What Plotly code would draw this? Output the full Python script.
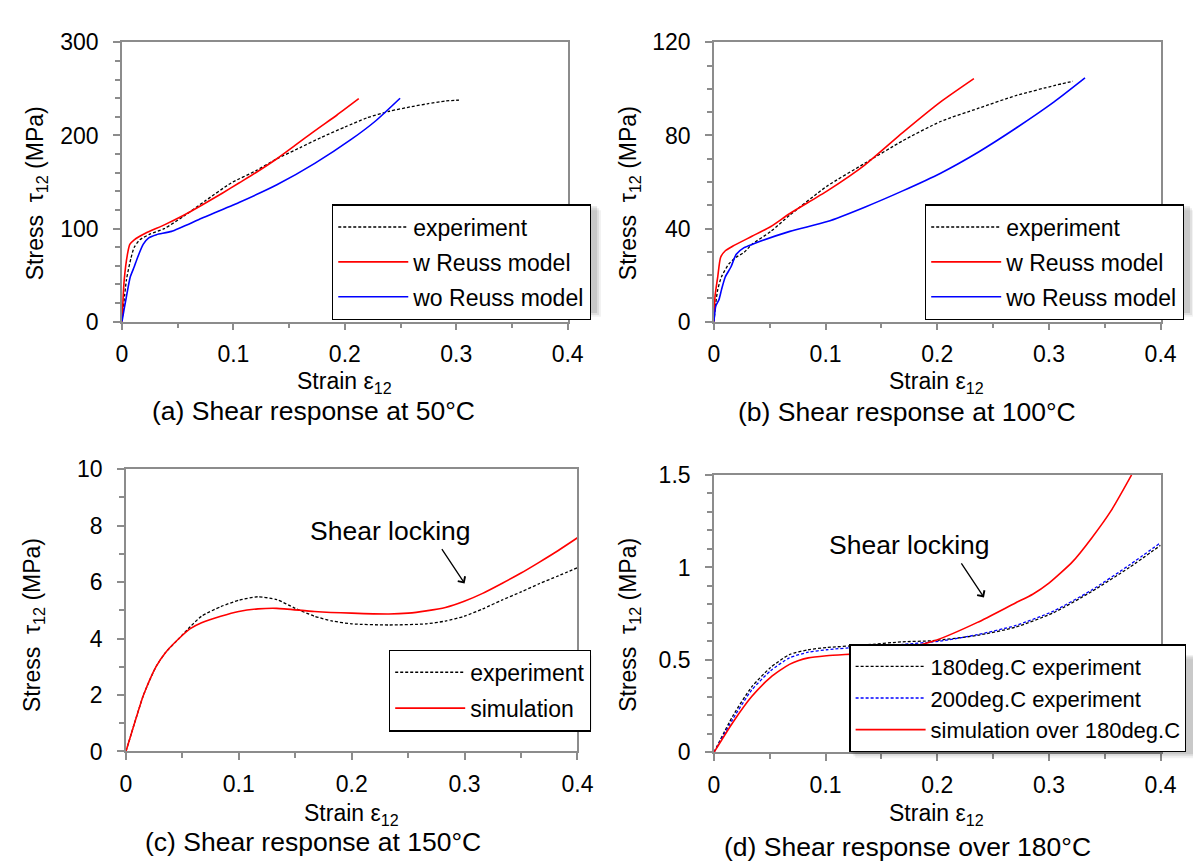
import plotly.graph_objects as go

# ---------------- data ----------------
# (a) 50 C
a_exp_x = [0, 0.004, 0.008, 0.011, 0.016, 0.025, 0.038, 0.055, 0.075, 0.098, 0.12, 0.139, 0.16, 0.179, 0.2, 0.22, 0.24, 0.26, 0.274, 0.29, 0.3025]
a_exp_y = [0, 45, 68, 80, 88, 94, 100, 113, 130, 149, 162, 175, 187, 198, 209, 219, 226, 231, 234, 237, 238]
a_w_x = [0, 0.002, 0.005, 0.007, 0.011, 0.021, 0.038, 0.055, 0.0715, 0.09, 0.105, 0.12, 0.139, 0.155, 0.173, 0.193, 0.2125]
a_w_y = [0, 45, 73, 83, 88, 95, 104, 114, 125, 138, 149, 160, 175, 189, 205, 222, 239.5]
a_wo_x = [0, 0.002, 0.004, 0.0074, 0.011, 0.014, 0.019, 0.024, 0.031, 0.0445, 0.0715, 0.105, 0.139, 0.173, 0.206, 0.227, 0.2496]
a_wo_y = [0, 14, 27, 48, 59, 69, 83, 90, 93.5, 97, 111, 128, 147, 170, 196, 215, 240]

# (b) 100 C
b_exp_x = [0, 0.0017, 0.0034, 0.0068, 0.0135, 0.02, 0.027, 0.034, 0.051, 0.068, 0.1015, 0.135, 0.169, 0.203, 0.237, 0.271, 0.3046, 0.3215]
b_exp_y = [0, 8.2, 13.8, 19.3, 24.9, 27.7, 29.8, 33.2, 38.8, 45.8, 58.3, 68, 77.7, 86, 91.7, 97.2, 101.4, 103.3]
b_w_x = [0, 0.001, 0.0034, 0.006, 0.0102, 0.017, 0.034, 0.051, 0.068, 0.1015, 0.135, 0.169, 0.203, 0.2328]
b_w_y = [0, 11, 19.3, 27.7, 30.5, 32.5, 36.7, 40.9, 46.5, 56.2, 67.3, 81.2, 94.4, 104.4]
b_wo_x = [0, 0.0017, 0.0045, 0.0068, 0.0102, 0.0152, 0.02, 0.027, 0.034, 0.068, 0.1015, 0.135, 0.169, 0.203, 0.237, 0.271, 0.3046, 0.3323]
b_wo_y = [0, 6.8, 9.5, 13.8, 19.3, 23.5, 29, 31.8, 33.2, 38.8, 43, 49.2, 56.2, 63.8, 72.9, 83.3, 94.4, 104.7]

# (c) 150 C
c_exp_x = [0, 0.008, 0.0156, 0.0266, 0.035, 0.047, 0.057, 0.067, 0.084, 0.1003, 0.117, 0.1336, 0.15, 0.167, 0.183, 0.2, 0.233, 0.266, 0.283, 0.2997, 0.316, 0.333, 0.35, 0.366, 0.383, 0.4]
c_exp_y = [0, 1.05, 2.0, 3.0, 3.5, 4.0, 4.42, 4.79, 5.13, 5.36, 5.48, 5.38, 5.07, 4.79, 4.62, 4.52, 4.48, 4.52, 4.62, 4.79, 5.05, 5.36, 5.65, 5.94, 6.22, 6.51]
c_sim_x = [0, 0.008, 0.0156, 0.0266, 0.035, 0.047, 0.057, 0.067, 0.084, 0.1, 0.117, 0.1336, 0.167, 0.2, 0.233, 0.25, 0.266, 0.283, 0.2997, 0.316, 0.333, 0.35, 0.366, 0.383, 0.4]
c_sim_y = [0, 1.05, 2.0, 3.0, 3.5, 4.0, 4.35, 4.56, 4.79, 4.96, 5.05, 5.07, 4.96, 4.90, 4.87, 4.90, 4.98, 5.10, 5.32, 5.60, 5.95, 6.32, 6.70, 7.12, 7.57]

# (d) over 180 C
d_180_x = [0, 0.0169, 0.0338, 0.0507, 0.0676, 0.0845, 0.101, 0.135, 0.169, 0.196, 0.236, 0.27, 0.304, 0.338, 0.372, 0.4]
d_180_y = [0, 0.197, 0.354, 0.459, 0.529, 0.555, 0.567, 0.581, 0.598, 0.604, 0.633, 0.677, 0.755, 0.869, 1.0, 1.12]
d_200_x = [0, 0.0169, 0.0338, 0.0507, 0.0676, 0.0845, 0.101, 0.135, 0.169, 0.203, 0.236, 0.27, 0.304, 0.338, 0.372, 0.4]
d_200_y = [0, 0.18, 0.337, 0.441, 0.511, 0.542, 0.555, 0.572, 0.584, 0.602, 0.637, 0.686, 0.764, 0.877, 1.013, 1.134]
d_sim_x = [0, 0.0169, 0.0338, 0.0507, 0.0676, 0.0845, 0.101, 0.135, 0.169, 0.199, 0.236, 0.27, 0.2855, 0.3, 0.321, 0.338, 0.356, 0.374]
d_sim_y = [0, 0.162, 0.302, 0.406, 0.476, 0.511, 0.523, 0.537, 0.56, 0.607, 0.703, 0.808, 0.855, 0.915, 1.03, 1.157, 1.31, 1.5]

x_ticks = [0, 0.1, 0.2, 0.3, 0.4]
x_tick_text = ["0", "0.1", "0.2", "0.3", "0.4"]
panel_titles = ["(a) Shear response at 50°C", "(b) Shear response at 100°C",
                "(c) Shear response at 150°C", "(d) Shear response over 180°C"]

# ---------------- layout helpers ----------------
W, H = 1201, 868
FONT = "Liberation Sans, Arial, sans-serif"
def px(x):
    return x / W
def py(y):
    return 1 - y / H

AX_COL = "#8c8c8c"
BLACK_DASH = dict(color="black", width=1.3, dash="3px,2px")
RED = dict(color="#ff0000", width=1.6)
BLUE = dict(color="#0000ff", width=1.6)
BLUE_DASH = dict(color="#0000ff", width=1.3, dash="3px,2px")

fig = go.Figure()

def add(x, y, name, line, ax, legend, group):
    fig.add_trace(go.Scatter(x=x, y=y, mode="lines", name=name, line=dict(shape="spline", smoothing=0.6, **line),
                             xaxis="x" + ax, yaxis="y" + ax, legend=legend, legendgroup=group,
                             hoverinfo="skip"))

add(a_exp_x, a_exp_y, "experiment", BLACK_DASH, "", "legend", "a1")
add(a_w_x, a_w_y, "w Reuss model", RED, "", "legend", "a2")
add(a_wo_x, a_wo_y, "wo Reuss model", BLUE, "", "legend", "a3")

add(b_exp_x, b_exp_y, "experiment", BLACK_DASH, "2", "legend2", "b1")
add(b_w_x, b_w_y, "w Reuss model", RED, "2", "legend2", "b2")
add(b_wo_x, b_wo_y, "wo Reuss model", BLUE, "2", "legend2", "b3")

add(c_exp_x, c_exp_y, "experiment", BLACK_DASH, "3", "legend3", "c1")
add(c_sim_x, c_sim_y, "simulation", RED, "3", "legend3", "c2")

add(d_180_x, d_180_y, "180deg.C experiment", BLACK_DASH, "4", "legend4", "d1")
add(d_200_x, d_200_y, "200deg.C experiment", BLUE_DASH, "4", "legend4", "d2")
add(d_sim_x, d_sim_y, "simulation over 180deg.C", RED, "4", "legend4", "d3")

# panel boxes in pixels: (left, right, top, bottom), y range, y major, y minor
panels = [
    (110, 564, 22, 310, [0, 300], 100, 20),
    (713, 1168, 22, 310, [0, 120], 40, 10),
    (114, 574, 462, 753, [0, 10], 2, 1),
    (713, 1168, 468, 754, [0, 1.5], 0.5, 0.1),
]

def axis_common(standoff):
    return dict(showline=True, linecolor=AX_COL, linewidth=1.5, mirror=True, showgrid=False, zeroline=False,
                ticks="outside", ticklen=7, tickwidth=1.5, tickcolor=AX_COL,
                tickfont=dict(family=FONT, size=23, color="black"), ticklabelstandoff=standoff)

layout_axes = {}
for i, (l, r, t, b, yr, ymaj, ymin) in enumerate(panels):
    suf = "" if i == 0 else str(i + 1)
    xa = axis_common(4)
    xa.update(domain=[px(l), px(r)], range=[0, 0.4], tickvals=x_ticks, ticktext=x_tick_text,
              anchor="y" + suf,
              minor=dict(dtick=0.05, tick0=0, ticks="outside", ticklen=5, tickwidth=1.5, tickcolor=AX_COL, showgrid=False))
    ya = axis_common(10)
    ya.update(domain=[py(b), py(t)], range=yr, dtick=ymaj, tick0=0, anchor="x" + suf,
              minor=dict(dtick=ymin, tick0=0, ticks="outside", ticklen=5, tickwidth=1.5, tickcolor=AX_COL, showgrid=False))
    layout_axes["xaxis" + suf] = xa
    layout_axes["yaxis" + suf] = ya

fig.update_layout(**layout_axes)

# legends: (name, left px, anchor y px, yanchor, tracegroupgap, font size)
leg_boxes = [("legend", 324, 189, "top", 2, 23), ("legend2", 928, 189, "top", 2, 23),
             ("legend3", 382, 648, "top", 3, 23), ("legend4", 851, 754, "bottom", 0, 22)]
legs = {}
for name, l, t, anc, gap, fs in leg_boxes:
    legs[name] = dict(x=px(l), y=py(t), xanchor="left", yanchor=anc, bgcolor="white",
                      bordercolor="black", borderwidth=1.2, font=dict(family=FONT, size=fs, color="black"),
                      itemwidth=70, tracegroupgap=gap, traceorder="grouped", itemclick=False)
fig.update_layout(**legs)

annotations = []
cap_pos = [(305, 402), (910, 403), (305, 846), (910, 852)]
xt_pos = [(337, 373), (940, 373), (344, 818), (940, 818)]
yt_pos = [(23, 178), (627, 178), (20, 623), (627, 623)]
for i in range(4):
    annotations.append(dict(text=panel_titles[i], x=px(cap_pos[i][0]), y=py(cap_pos[i][1]), xref="paper", yref="paper",
                            showarrow=False, font=dict(family=FONT, size=26.5, color="black"), xanchor="center", yanchor="middle"))
    annotations.append(dict(text="Strain ε<sub>12</sub>", x=px(xt_pos[i][0]), y=py(xt_pos[i][1]), xref="paper", yref="paper",
                            showarrow=False, font=dict(family=FONT, size=23, color="black"), xanchor="center", yanchor="middle"))
    annotations.append(dict(text="Stress\u00a0\u00a0τ<sub>12</sub> (MPa)", x=px(yt_pos[i][0]), y=py(yt_pos[i][1]),
                            xref="paper", yref="paper", textangle=-90,
                            showarrow=False, font=dict(family=FONT, size=23, color="black"), xanchor="center", yanchor="middle"))

annotations += [
    dict(text="Shear locking", x=0.234, y=7.8, xref="x3", yref="y3", showarrow=False,
         font=dict(family=FONT, size=26.5, color="black")),
    dict(text="", x=0.300, y=5.95, ax=0.279, ay=7.22, xref="x3", yref="y3", axref="x3", ayref="y3",
         showarrow=True, arrowhead=4, arrowsize=1.3, arrowwidth=1.3, arrowcolor="black", standoff=0),
    dict(text="Shear locking", x=0.175, y=1.12, xref="x4", yref="y4", showarrow=False,
         font=dict(family=FONT, size=26.5, color="black")),
    dict(text="", x=0.2418, y=0.838, ax=0.2207, ay=1.03, xref="x4", yref="y4", axref="x4", ayref="y4",
         showarrow=True, arrowhead=4, arrowsize=1.3, arrowwidth=1.3, arrowcolor="black", standoff=0),
]

# soft legend shadows (estimated legend boxes in pixels: left, right, top, bottom)
shadow_boxes = [(324, 592, 189, 299), (928, 1196, 189, 299), (382, 583, 648, 724), (851, 1199, 652, 754)]
shapes = []
for (l, r, t, b) in shadow_boxes:
    for off, alpha in [(6, 0.05), (4, 0.07), (2, 0.10)]:
        shapes.append(dict(type="rect", xref="paper", yref="paper", x0=px(l + off), x1=px(r + off),
                           y0=py(b + off), y1=py(t + off), line=dict(width=0),
                           fillcolor=f"rgba(0,0,0,{alpha})", layer="above"))

fig.update_layout(width=W, height=H, margin=dict(l=0, r=0, t=0, b=0), paper_bgcolor="white", plot_bgcolor="white",
                  annotations=annotations, shapes=shapes, showlegend=True,
                  font=dict(family=FONT, color="black"))

fig.write_html("out.html")
